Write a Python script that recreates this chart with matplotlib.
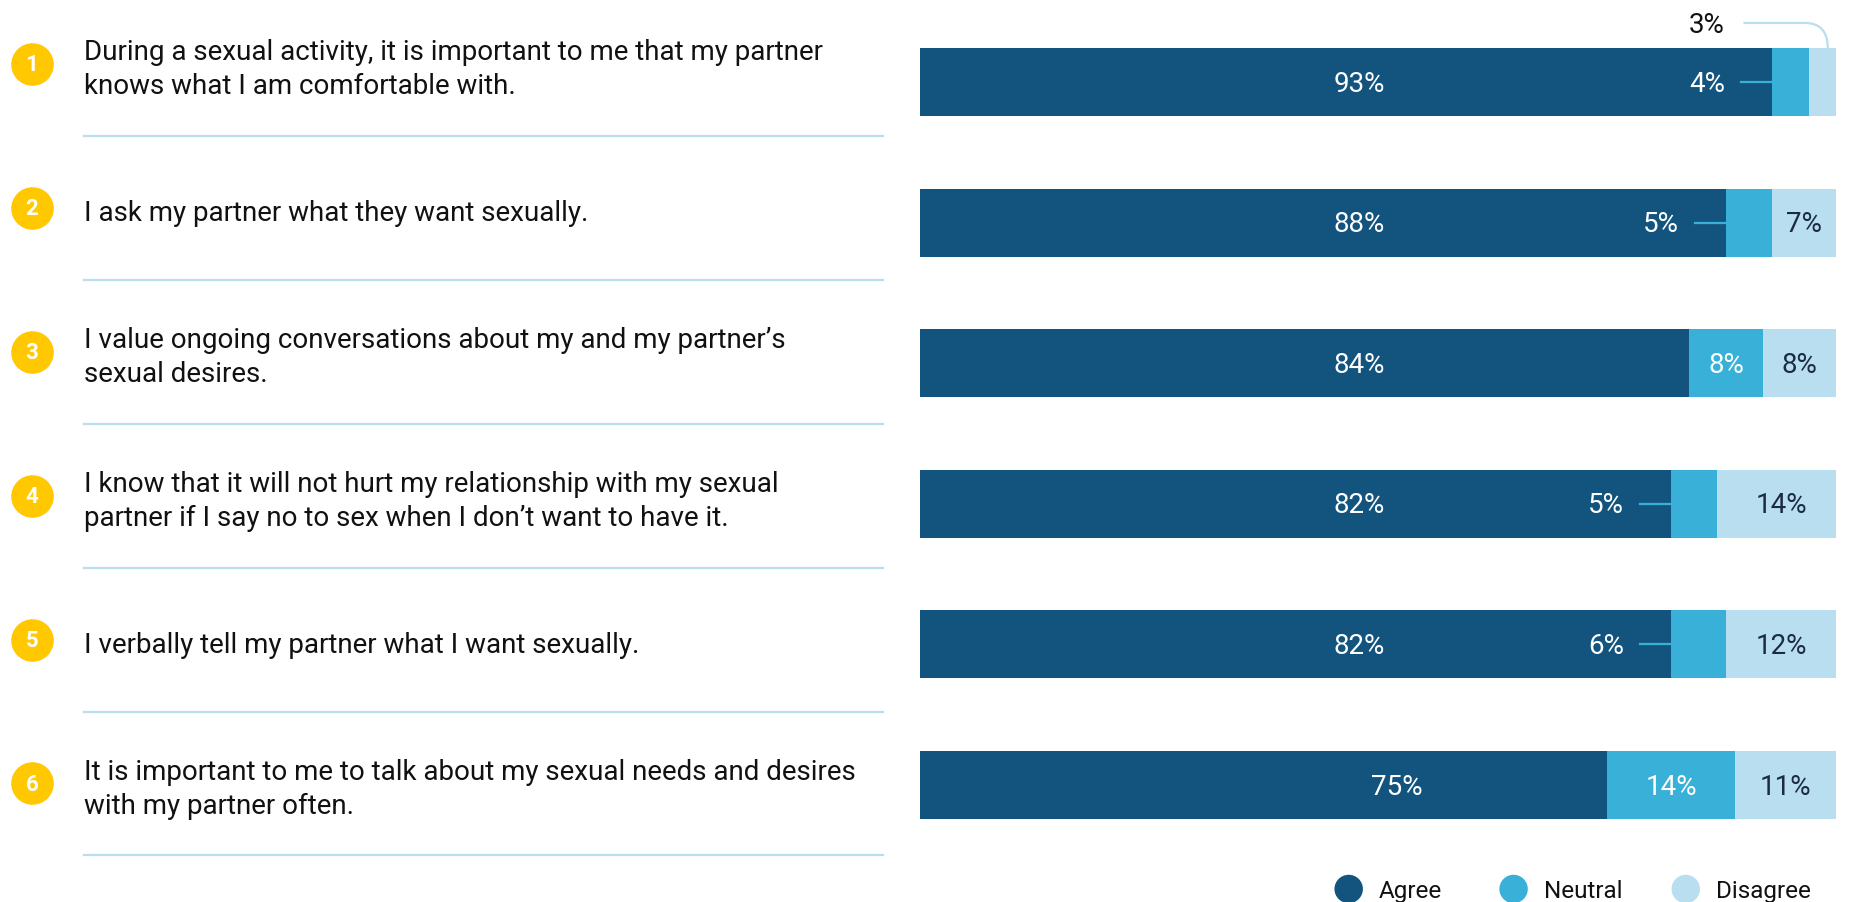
import matplotlib
matplotlib.use("Agg")
import matplotlib.pyplot as plt
from matplotlib.path import Path
from matplotlib.patches import PathPatch

# survey statements and shares (%)
statements = [
    "During a sexual activity, it is important to me that my partner\nknows what I am comfortable with.",
    "I ask my partner what they want sexually.",
    "I value ongoing conversations about my and my partner\u2019s\nsexual desires.",
    "I know that it will not hurt my relationship with my sexual\npartner if I say no to sex when I don\u2019t want to have it.",
    "I verbally tell my partner what I want sexually.",
    "It is important to me to talk about my sexual needs and desires\nwith my partner often.",
]
agree = [93, 88, 84, 82, 82, 75]
neutral = [4, 5, 8, 5, 6, 14]
disagree = [3, 7, 8, 14, 12, 11]
agree_label_x = [48, 48, 48, 48, 48, 52]
categories = ["Agree", "Neutral", "Disagree"]
colors = ["#13547f", "#38b0d8", "#b9def0"]

plt.rcParams['font.family'] = ['Roboto', 'DejaVu Sans']

W, H = 1854, 902
fig = plt.figure(figsize=(W / 100, H / 100), dpi=100)
rows = list(range(len(statements)))

# ---- left column: numbered statements ----
axl = fig.add_axes([0, 0, 0.5, 1])
row_l = 143.9
axl.set_xlim(0, W / 2)
axl.set_ylim((H - 64) / row_l, -64 / row_l)
axl.axis('off')

axl.scatter([32] * len(rows), rows, s=940, color="#ffc800", linewidths=0, zorder=2)
for i, txt in enumerate(statements):
    axl.text(32, i + 0.01, str(i + 1), color="white", fontsize=16, fontweight="bold",
             fontstretch="condensed", ha="center", va="center", zorder=3)
    axl.text(84, i + 0.04, txt, fontsize=20, color="#111111", ha="left", va="center",
             linespacing=1.33)
    axl.plot([84, 883], [i + 0.5, i + 0.5], color="#b9def0", lw=1.6)

# ---- right column: stacked bars ----
ax = fig.add_axes([920 / W, 0, 916 / W, 1])
row_r = 140.6
ax.set_xlim(0, 100)
ax.set_ylim((H - 82) / row_r, -82 / row_r)
ax.axis('off')
bh = 68 / row_r

left_d = [a + n for a, n in zip(agree, neutral)]
ax.barh(rows, agree, height=bh, color=colors[0], linewidth=0)
ax.barh(rows, neutral, left=agree, height=bh, color=colors[1], linewidth=0)
ax.barh(rows, disagree, left=left_d, height=bh, color=colors[2], linewidth=0)

lab = dict(fontsize=20, ha="center", va="center")
for i in rows:
    yl = i + 0.015
    ax.text(agree_label_x[i], yl, f"{agree[i]}%", color="white", **lab)
    if neutral[i] >= 8:
        ax.text(agree[i] + neutral[i] / 2, yl, f"{neutral[i]}%", color="white", **lab)
    else:
        ax.text(agree[i] - 7.1, yl, f"{neutral[i]}%", color="white", **lab)
        ax.plot([agree[i] - 3.4, agree[i]], [i, i], color=colors[1], lw=1.6)
    if disagree[i] >= 5:
        ax.text(left_d[i] + disagree[i] / 2, yl, f"{disagree[i]}%", color="#1b2a45", **lab)
    else:
        # callout above the bar for the tiny segment
        y0 = i - 0.42
        xe = left_d[i] + disagree[i] / 2 + 0.6
        ax.text(agree[i] - 7.1, y0 + 0.015, f"{disagree[i]}%", color="#111111", clip_on=False, **lab)
        path = Path([(agree[i] - 3.1, y0), (xe - 2.5, y0), (xe, y0), (xe, i - bh / 2)],
                    [Path.MOVETO, Path.LINETO, Path.CURVE3, Path.CURVE3])
        ax.add_patch(PathPatch(path, fill=False, edgecolor=colors[2], lw=1.6, clip_on=False))

# ---- legend ----
leg_x = [46.8, 64.8, 83.6]
leg_y = (889 - 82) / row_r
ax.scatter(leg_x, [leg_y] * 3, s=420, color=colors, linewidths=0, clip_on=False)
for x, name in zip(leg_x, categories):
    ax.text(x + 3.3, leg_y + 0.02, name, fontsize=17.5, color="#111111", ha="left", va="center")

fig.savefig("out.png", dpi=100)
